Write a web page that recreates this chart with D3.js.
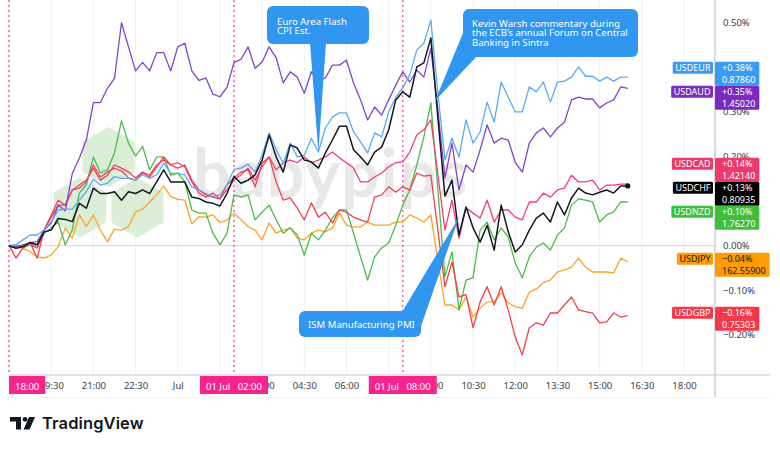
<!DOCTYPE html>
<html>
<head>
<meta charset="utf-8">
<script src="https://cdn.jsdelivr.net/npm/d3@7/dist/d3.min.js"></script>
<style>
  body { margin: 0; background: #fff; }
  svg { display: block; font-family: "Noto Sans", "DejaVu Sans", sans-serif; }
</style>
</head>
<body>
<div id="chart"></div>
<script>
// 15 minute bars, hours counted from 30 Jun 18:00
const hourStep = 0.25;

const usdeur = [0,0.002,0.013,0.024,0.024,0.035,0.054,0.080,0.082,0.082,
  0.102,0.121,0.149,0.136,0.140,0.155,0.151,0.151,0.147,0.159,
  0.151,0.159,0.185,0.162,0.162,0.159,0.132,0.125,0.117,0.110,
  0.114,0.136,0.171,0.174,0.183,0.165,0.203,0.253,0.215,0.185,
  0.230,0.199,0.203,0.241,0.210,0.264,0.289,0.298,0.298,0.255,
  0.233,0.208,0.253,0.244,0.300,0.333,0.354,0.383,0.439,0.454,
  0.506,0.342,0.192,0.241,0.199,0.282,0.230,0.255,0.322,0.277,
  0.367,0.333,0.300,0.300,0.356,0.345,0.367,0.322,0.367,0.369,
  0.378,0.401,0.380,0.380,0.369,0.378,0.369,0.378,0.378];

const usdaud = [0,-0.002,0.002,0.007,0.009,0.035,0.051,0.091,0.078,0.162,
  0.196,0.237,0.321,0.321,0.353,0.375,0.500,0.446,0.392,0.411,
  0.392,0.433,0.433,0.392,0.446,0.454,0.392,0.371,0.376,0.340,
  0.334,0.355,0.411,0.418,0.446,0.398,0.412,0.446,0.421,0.365,
  0.390,0.378,0.342,0.390,0.372,0.376,0.405,0.405,0.416,0.365,
  0.327,0.282,0.311,0.293,0.327,0.360,0.390,0.367,0.394,0.378,
  0.443,0.304,0.152,0.230,0.125,0.181,0.165,0.215,0.271,0.230,
  0.241,0.237,0.187,0.165,0.230,0.253,0.264,0.244,0.264,0.277,
  0.327,0.333,0.329,0.329,0.309,0.320,0.327,0.356,0.353];

const usdcad = [0,-0.005,-0.001,0.006,-0.005,0.035,0.064,0.091,0.091,0.125,
  0.129,0.143,0.181,0.154,0.165,0.174,0.168,0.152,0.147,0.163,
  0.154,0.177,0.199,0.181,0.186,0.177,0.143,0.118,0.109,0.118,
  0.105,0.125,0.147,0.159,0.174,0.147,0.177,0.199,0.170,0.186,
  0.192,0.186,0.199,0.186,0.192,0.199,0.210,0.197,0.186,0.174,
  0.143,0.143,0.154,0.163,0.177,0.186,0.188,0.210,0.248,0.260,
  0.282,0.159,0.035,0.102,0.017,0.085,0.073,0.062,0.102,0.053,
  0.080,0.080,0.064,0.058,0.098,0.098,0.118,0.109,0.125,0.129,
  0.158,0.143,0.143,0.147,0.125,0.136,0.136,0.138,0.138];

const usdchf = [0,-0.006,-0.002,0.007,0.002,0.031,0.035,0.061,0.059,0.054,
  0.095,0.084,0.129,0.117,0.117,0.121,0.102,0.121,0.117,0.125,
  0.117,0.143,0.170,0.143,0.143,0.143,0.109,0.106,0.098,0.095,
  0.089,0.117,0.155,0.140,0.147,0.159,0.192,0.248,0.199,0.165,
  0.226,0.219,0.192,0.188,0.174,0.208,0.237,0.268,0.268,0.215,
  0.199,0.181,0.210,0.221,0.260,0.327,0.345,0.333,0.401,0.410,
  0.466,0.286,0.111,0.147,0.024,0.087,0.040,0.008,0.046,-0.010,
  0.091,0.031,-0.014,0.002,0.035,0.062,0.073,0.053,0.098,0.069,
  0.107,0.129,0.118,0.114,0.120,0.125,0.118,0.134,0.134];

const usdnzd = [0,0.002,-0.005,0.002,-0.005,0.028,0.040,0.053,0.002,0.035,
  0.118,0.136,0.199,0.163,0.170,0.208,0.280,0.230,0.201,0.223,
  0.170,0.199,0.199,0.158,0.163,0.143,0.080,0.073,0.073,0.028,
  0.002,0.028,0.114,0.109,0.114,0.058,0.075,0.091,0.058,0.028,
  0.040,0.024,-0.021,0.028,0.013,0.035,0.062,0.080,0.080,0.028,
  -0.025,-0.077,-0.025,-0.005,0.006,0.046,0.091,0.125,0.181,0.244,
  0.320,0.125,-0.070,-0.014,-0.144,-0.077,-0.072,0.035,0.053,0.013,
  0.040,0.019,-0.039,-0.072,-0.025,-0.003,0.006,-0.010,0.024,0.040,
  0.091,0.105,0.102,0.098,0.053,0.069,0.076,0.098,0.098];

const usdjpy = [0,-0.002,-0.006,-0.013,-0.025,-0.028,-0.021,-0.002,0.039,0.017,
  0.069,0.043,0.069,0.035,0.009,0.037,0.035,0.043,0.076,0.082,
  0.098,0.114,0.134,0.110,0.104,0.102,0.049,0.065,0.064,0.069,
  0.052,0.058,0.073,0.058,0.043,0.035,0.013,0.051,0.028,0.035,
  0.040,0.017,0.013,0.028,0.035,0.031,0.040,0.073,0.046,0.042,
  0.042,0.053,0.046,0.046,0.046,0.053,0.053,0.069,0.062,0.053,
  0.069,-0.036,-0.133,-0.133,-0.144,-0.115,-0.160,-0.140,-0.126,-0.126,
  -0.106,-0.128,-0.137,-0.140,-0.104,-0.097,-0.083,-0.077,-0.059,-0.054,
  -0.048,-0.028,-0.048,-0.059,-0.059,-0.059,-0.061,-0.028,-0.036];

const usdgbp = [0,-0.028,-0.005,0.008,-0.028,0.035,0.069,0.102,0.091,0.125,
  0.136,0.147,0.174,0.147,0.158,0.181,0.174,0.165,0.152,0.165,
  0.158,0.181,0.192,0.181,0.174,0.181,0.147,0.125,0.114,0.109,
  0.105,0.136,0.152,0.165,0.170,0.132,0.185,0.199,0.143,0.102,
  0.107,0.084,0.058,0.096,0.064,0.075,0.051,0.080,0.075,0.064,
  0.058,0.053,0.109,0.114,0.132,0.120,0.132,0.125,0.163,0.156,
  0.158,0.035,-0.092,-0.037,-0.115,-0.110,-0.184,-0.126,-0.092,-0.133,
  -0.092,-0.144,-0.205,-0.245,-0.184,-0.173,-0.178,-0.151,-0.151,-0.133,
  -0.115,-0.144,-0.148,-0.151,-0.173,-0.171,-0.151,-0.160,-0.157];

const seriesNames = ["USDEUR", "USDAUD", "USDCAD", "USDCHF", "USDNZD", "USDJPY", "USDGBP"];
const lastChange = ["+0.38%", "+0.35%", "+0.14%", "+0.13%", "+0.10%", "\u22120.04%", "\u22120.16%"];
const lastPrice = ["0.87860", "1.45020", "1.42140", "0.80935", "1.76270", "162.55900", "0.75303"];

const xTickHours = [0, 1.5, 3, 4.5, 6, 7.5, 9, 10.5, 12, 13.5, 15, 16.5, 18, 19.5, 21, 22.5, 24];
const xTickLabels = ["18:00", "19:30", "21:00", "22:30", "Jul", "01:30", "03:00", "04:30", "06:00",
  "07:30", "09:00", "10:30", "12:00", "13:30", "15:00", "16:30", "18:00"];
const markHours = [0, 8, 14];
const markLabels = ["18:00", "01 Jul\u00a0\u00a0\u00a002:00", "01 Jul\u00a0\u00a0\u00a008:00"];
const yTicks = [0.5, 0.4, 0.3, 0.2, 0.1, 0, -0.1, -0.2];

const series = [usdeur, usdaud, usdcad, usdchf, usdnzd, usdjpy, usdgbp];
const lineColors = ["#5aaaf2", "#8543c9", "#f0416f", "#131722", "#4cbb47", "#ffa126", "#f2404c"];
const labelColors = ["#3a9cf0", "#7b2bbd", "#eb3a6c", "#000000", "#3fbf3a", "#ff9b05", "#f2394b"];
const labelText = ["#fff", "#fff", "#fff", "#fff", "#fff", "#131722", "#fff"];
const drawOrder = [5, 4, 6, 2, 1, 0, 3];

const width = 780, height = 449;
const axisX = 715, axisY = 375;

const x = d3.scaleLinear().domain([0, 24]).range([9, 684]);
const y = d3.scaleLinear().domain([-0.29, 0.551]).range([axisY, 0]);

const svg = d3.select("#chart").append("svg")
  .attr("width", width)
  .attr("height", height);

svg.append("rect").attr("width", width).attr("height", height).attr("fill", "#fff");

// vertical grid
svg.append("g")
  .selectAll("line")
  .data(xTickHours)
  .join("line")
  .attr("x1", d => x(d)).attr("x2", d => x(d))
  .attr("y1", 0).attr("y2", axisY)
  .attr("stroke", "#eef0f4");

// babypips watermark
const hex = (cx, cy, r) => d3.range(6).map(k => {
  const a = Math.PI / 3 * k - Math.PI / 2;
  return [cx + r * Math.cos(a), cy + r * Math.sin(a)];
});
const wm = svg.append("g").attr("opacity", 0.8);
[[108.5, 157], [80, 207.5], [137.5, 207.5]].forEach(c => {
  wm.append("polygon")
    .attr("points", hex(c[0], c[1], 30).map(p => p.join(",")).join(" "))
    .attr("fill", "#d3ebcf");
});
wm.append("text")
  .attr("x", 193).attr("y", 197)
  .attr("textLength", 274)
  .attr("font-family", "Lato, 'Noto Sans', sans-serif")
  .attr("font-weight", 700)
  .attr("font-size", 66)
  .attr("fill", "#e3e3e3")
  .text("babypips");

// zero line
svg.append("line")
  .attr("x1", 9).attr("x2", axisX)
  .attr("y1", y(0)).attr("y2", y(0))
  .attr("stroke", "#d3d5db");

// session markers
svg.append("g")
  .selectAll("line")
  .data(markHours)
  .join("line")
  .attr("x1", d => x(d)).attr("x2", d => x(d))
  .attr("y1", 0).attr("y2", axisY)
  .attr("stroke", "#f562ad")
  .attr("stroke-width", 1.5)
  .attr("stroke-dasharray", "2,3");

const line = d3.line()
  .x((d, i) => x(i * hourStep))
  .y(d => y(d));

svg.append("g")
  .selectAll("path")
  .data(drawOrder)
  .join("path")
  .attr("d", k => line(series[k]))
  .attr("fill", "none")
  .attr("stroke", k => lineColors[k])
  .attr("stroke-width", k => k === 3 ? 1.5 : 1.3)
  .attr("stroke-linejoin", "round");

svg.append("circle")
  .attr("cx", x((usdchf.length - 1) * hourStep))
  .attr("cy", y(usdchf[usdchf.length - 1]))
  .attr("r", 2.6)
  .attr("fill", "#131722");

// callouts
const calloutColor = "#3196f0";
function callout(box, tail, lines, tx, ty) {
  const g = svg.append("g");
  g.append("polygon")
    .attr("points", tail.map(p => p.join(",")).join(" "))
    .attr("fill", calloutColor);
  g.append("rect")
    .attr("x", box[0]).attr("y", box[1])
    .attr("width", box[2]).attr("height", box[3])
    .attr("rx", 6)
    .attr("fill", calloutColor);
  g.selectAll("text")
    .data(lines)
    .join("text")
    .attr("x", tx)
    .attr("y", (d, i) => ty + i * 9.8)
    .attr("font-size", 9.6)
    .attr("fill", "#fff")
    .text(d => d);
}

const euroTip = [x(44 * hourStep), y(usdeur[44])];
callout([267, 6, 102, 38], [[310, 43], [326, 43], euroTip],
  ["Euro Area Flash", "CPI Est."], 277, 24.5);

const warshTip = [x(15.15), y(0.325)];
callout([463, 9, 175, 48], [[463, 33], [477, 56], warshTip],
  ["Kevin Warsh commentary during", "the ECB\u2019s annual Forum on Central", "Banking in Sintra"], 472, 26.5);

const ismTip = [x(16), y(0.064)];
callout([299, 311, 122, 26], [[402, 312], [420, 329], ismTip],
  ["ISM Manufacturing PMI"], 308, 327.5);

// axes
svg.append("line")
  .attr("x1", 9).attr("x2", 770)
  .attr("y1", axisY).attr("y2", axisY)
  .attr("stroke", "#c3c6cc");
svg.append("line")
  .attr("x1", axisX).attr("x2", axisX)
  .attr("y1", 0).attr("y2", 397)
  .attr("stroke", "#c3c6cc")
  .attr("stroke-width", 1.3);
svg.append("line")
  .attr("x1", 9).attr("x2", 770)
  .attr("y1", 397.5).attr("y2", 397.5)
  .attr("stroke", "#f0f1f4");

const xAxis = svg.append("g")
  .attr("transform", `translate(0,${axisY})`)
  .call(d3.axisBottom(x).tickValues(xTickHours).tickSize(0).tickPadding(7)
    .tickFormat((d, i) => xTickLabels[i]));
xAxis.select(".domain").remove();
xAxis.selectAll("text").attr("font-size", 9.5).attr("fill", "#3b3e45").attr("font-family", "Noto Sans");

const yAxis = svg.append("g")
  .attr("transform", `translate(${axisX},0)`)
  .call(d3.axisRight(y).tickValues(yTicks).tickSize(0).tickPadding(8)
    .tickFormat(d => (d < 0 ? "\u2212" : "") + Math.abs(d).toFixed(2) + "%"));
yAxis.select(".domain").remove();
yAxis.selectAll("text").attr("font-size", 9.5).attr("fill", "#3b3e45").attr("font-family", "Noto Sans");

// highlighted time labels
const markBoxes = [];
const markG = svg.append("g").selectAll("g").data(markHours).join("g");
markG.each(function (d, i) {
  const g = d3.select(this);
  const t = g.append("text")
    .attr("y", axisY + 14.5)
    .attr("font-size", 9.5)
    .attr("fill", "#fff")
    .text(markLabels[i]);
  const w = t.node().getComputedTextLength() + 12;
  const left = Math.max(9, x(d) - w / 2);
  markBoxes.push([left, left + w]);
  t.attr("x", left + w / 2).attr("text-anchor", "middle");
  g.insert("rect", "text")
    .attr("x", left).attr("y", axisY + 1)
    .attr("width", w).attr("height", 18)
    .attr("fill", "#f5258b");
});

// tick labels hidden under the highlight boxes are dropped
xAxis.selectAll(".tick text").each(function () {
  const b = this.getBBox();
  const t = this.parentNode.transform.baseVal.consolidate().matrix.e;
  const l = t + b.x, r = t + b.x + b.width;
  if (l < 9 || markBoxes.some(m => l >= m[0] - 1 && r <= m[1] + 1)) d3.select(this).remove();
});

// last value labels
const boxH = 24;
const slots = series.map((s, k) => ({ k, top: y(s[s.length - 1]) - 9 }))
  .sort((a, b) => a.top - b.top);
for (let it = 0; it < 60; it++) {
  for (let j = 1; j < slots.length; j++) {
    const over = slots[j - 1].top + boxH - slots[j].top;
    if (over > 0) {
      slots[j - 1].top -= over / 2;
      slots[j].top += over / 2;
    }
  }
}

// axis ticks fully covered by a label box are dropped
yAxis.selectAll(".tick").each(function (d) {
  const ty = y(d);
  if (slots.some(s => ty - 4 >= s.top && ty + 4 <= s.top + boxH)) d3.select(this).remove();
});

slots.forEach(s => {
  const k = s.k, top = s.top;
  const g = svg.append("g");
  const t1 = g.append("text").attr("x", axisX + 7).attr("y", top + 9)
    .attr("font-size", 9).attr("fill", labelText[k]).text(lastChange[k]);
  const t2 = g.append("text").attr("x", axisX + 7).attr("y", top + 21)
    .attr("font-size", 9).attr("fill", labelText[k]).text(lastPrice[k]);
  const vw = Math.max(t1.node().getComputedTextLength(), t2.node().getComputedTextLength()) + 11;
  g.insert("rect", "text")
    .attr("x", axisX).attr("y", top)
    .attr("width", vw).attr("height", boxH)
    .attr("rx", 1.5)
    .attr("fill", labelColors[k]);
  const nt = g.append("text").attr("y", top + 9)
    .attr("font-size", 9).attr("fill", labelText[k]).text(seriesNames[k]);
  const nw = nt.node().getComputedTextLength() + 5;
  nt.attr("x", axisX - 2 - nw + 2.5);
  g.insert("rect", "text")
    .attr("x", axisX - 2 - nw).attr("y", top)
    .attr("width", nw).attr("height", 12)
    .attr("rx", 1.5)
    .attr("fill", labelColors[k]);
});

// TradingView logo
const logo = svg.append("g").attr("fill", "#131722");
logo.append("path").attr("d", "M10,417 H21 V429.5 H16 V421.5 H10 Z");
logo.append("circle").attr("cx", 25).attr("cy", 419.3).attr("r", 2.4);
logo.append("path").attr("d", "M29,417 H35 L29.5,429.5 H23.5 Z");
logo.append("text")
  .attr("x", 42).attr("y", 429)
  .attr("font-size", 16.5)
  .attr("font-weight", 600)
  .attr("letter-spacing", 0.1)
  .attr("font-family", "Inter, 'Noto Sans', sans-serif")
  .text("TradingView");
</script>
</body>
</html>
